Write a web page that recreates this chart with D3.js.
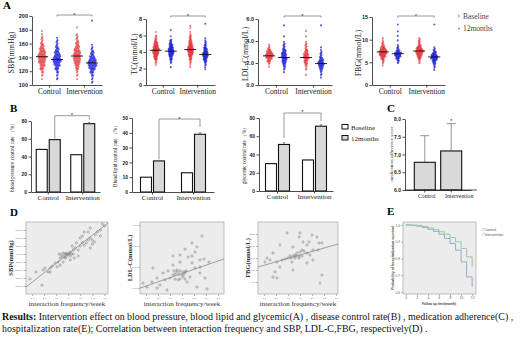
<!DOCTYPE html>
<html>
<head>
<meta charset="utf-8">
<script src="https://cdn.jsdelivr.net/npm/d3@7"></script>
<style>
body { margin: 0; background: #fff; }
svg { display: block; }
</style>
</head>
<body>
<svg id="chart" width="520" height="338"></svg>
<script>
// ---------- data ----------
const groups = ["Control", "Intervention"];
const periods = ["Baseline", "12months"];

// panel A: beeswarm points as [value, count] per bin
const sbpCtrlBase = [[110,1],[115,2],[120,4],[125,7],[130,10],[135,13],[140,15],[145,13],[150,10],[155,7],[160,5],[165,3],[170,2],[175,1],[180,1]];
const sbpCtrlFollow = [[110,2],[115,2],[120,4],[125,7],[130,11],[135,15],[140,13],[145,10],[150,7],[155,5],[160,3],[165,2],[170,1]];
const sbpIntBase = [[110,1],[115,2],[120,3],[125,6],[130,9],[135,12],[140,13],[145,13],[150,11],[155,8],[160,6],[165,4],[170,3],[175,1],[185,1]];
const sbpIntFollow = [[105,2],[110,2],[115,4],[120,7],[125,12],[130,16],[135,14],[140,10],[145,6],[150,4],[155,2],[160,1],[195,1]];
const sbpMeans = [141, 137, 142, 132];

const tcCtrlBase = [[2.5,1],[2.75,2],[3.0,3],[3.25,5],[3.5,7],[3.75,9],[4.0,11],[4.25,12],[4.5,10],[4.75,8],[5.0,7],[5.25,5],[5.5,3],[5.75,2],[6.0,2],[6.5,1]];
const tcCtrlFollow = [[2.25,1],[2.75,2],[3.0,3],[3.25,4],[3.5,6],[3.75,8],[4.0,10],[4.25,10],[4.5,8],[4.75,6],[5.0,5],[5.25,3],[5.5,2],[6.0,1],[6.75,1]];
const tcIntBase = [[2.25,1],[2.5,1],[2.75,2],[3.0,3],[3.25,4],[3.5,6],[3.75,8],[4.0,10],[4.25,11],[4.5,10],[4.75,8],[5.0,6],[5.25,5],[5.5,4],[5.75,3],[6.0,2],[6.25,1],[6.5,1],[7.0,1],[7.25,1]];
const tcIntFollow = [[2.0,1],[2.25,1],[2.5,2],[2.75,3],[3.0,5],[3.25,7],[3.5,9],[3.75,10],[4.0,8],[4.25,6],[4.5,5],[4.75,3],[5.0,2],[5.25,2],[5.5,1],[5.75,1],[7.5,1]];
const tcMeans = [4.2, 4.1, 4.3, 3.7];

const ldlCtrlBase = [[1.75,1],[2.0,3],[2.25,7],[2.5,12],[2.75,14],[3.0,10],[3.25,5],[3.5,2],[3.75,1]];
const ldlCtrlFollow = [[1.25,1],[1.5,2],[1.75,4],[2.0,6],[2.25,8],[2.5,10],[2.75,9],[3.0,7],[3.25,5],[3.5,3],[3.75,2],[4.0,1],[4.5,1],[5.5,1]];
const ldlIntBase = [[1.0,1],[1.5,2],[1.75,3],[2.0,5],[2.25,7],[2.5,10],[2.75,9],[3.0,6],[3.25,4],[3.5,3],[3.75,2],[4.0,1],[4.5,1],[5.0,1]];
const ldlIntFollow = [[0.75,1],[1.0,2],[1.25,3],[1.5,6],[1.75,9],[2.0,11],[2.25,8],[2.5,5],[2.75,3],[3.0,2],[3.25,1],[3.5,1],[5.5,1]];
const ldlMeans = [2.65, 2.5, 2.5, 1.95];

const fbgCtrlBase = [[4.5,1],[5.0,2],[5.5,4],[6.0,7],[6.5,11],[7.0,14],[7.5,14],[8.0,10],[8.5,6],[9.0,3],[9.5,2],[10.0,1],[10.5,1]];
const fbgCtrlFollow = [[5.0,2],[5.5,4],[6.0,7],[6.5,11],[7.0,12],[7.5,6],[8.0,3],[8.5,2],[9.0,1],[10.0,1],[11.0,1],[12.0,1],[13.5,1]];
const fbgIntBase = [[5.0,2],[5.5,3],[6.0,6],[6.5,9],[7.0,12],[7.5,14],[8.0,11],[8.5,7],[9.0,4],[9.5,3],[10.0,2],[10.5,1]];
const fbgIntFollow = [[3.5,1],[4.0,2],[4.5,3],[5.0,5],[5.5,8],[6.0,13],[6.5,11],[7.0,7],[7.5,4],[8.0,2],[8.5,1],[13.5,1]];
const fbgMeans = [7.3, 6.9, 7.5, 6.2];

// panel B: control rates (%) -> [ctrl base, ctrl 12m, int base, int 12m]
const bpRate = [48, 59, 42, 77];
const lipidRate = [10, 21, 13, 39];
const glucoseRate = [30, 51, 34, 71];

// panel C: medication adherence score
const adherenceMean = [6.78, 7.10];
const adherenceUpper = [7.53, 7.87];

// panel D: [interaction frequency, value]
const sbpScatter = [[0.83,109],[1.33,117.5],[1.83,101],[1.92,120],[2.08,122.5],[2.33,117.5],[2.5,122.5],[2.5,117.5],[2.67,125],[2.92,129],[3.08,124],[3.17,130],[3.33,126],[3.33,135],[3.58,130],[3.67,137.5],[3.75,135],[3.83,141],[4.0,139],[4.17,142.5],[4.17,132.5],[4.33,150],[4.42,145],[4.5,135],[4.58,147.5],[4.67,154],[4.83,145],[4.83,137.5],[5.0,150],[5.0,160],[5.17,154],[5.17,162.5],[5.33,151],[5.33,167.5],[5.5,154],[5.67,157.5],[5.67,167.5],[5.83,160],[5.83,172.5],[5.83,147.5],[6.0,157.5],[6.0,152.5],[6.17,155],[6.25,164],[6.42,167.5],[6.67,170],[6.67,162.5],[6.83,177.5],[7.0,175],[3.25,140],[3.42,139],[3.58,141],[3.75,140],[3.92,140],[4.08,141],[4.25,140],[4.42,140],[3.5,136],[3.83,136],[4.17,137.5]];
const sbpLine = [[0.5, 98.8], [7.3, 178.8]];

const ldlScatter = [[5.67,3.47],[4.83,3.14],[5.25,2.95],[4.25,2.85],[3.83,2.57],[3.25,2.52],[4.83,2.52],[5.5,2.33],[5.83,2.38],[4.83,2.19],[3.83,2.23],[3.25,2.09],[2.83,1.81],[3.58,1.85],[4.25,1.76],[5.08,1.95],[5.5,1.71],[5.92,1.47],[6.08,0.95],[5.25,1.04],[4.42,1.28],[4.0,1.61],[2.58,1.38],[1.92,1.47],[1.5,1.28],[1.08,1.04],[0.75,1.23],[1.92,0.99],[2.75,0.9],[2.17,1.14],[3.0,1.47],[3.25,1.61],[1.58,1.95],[2.42,1.71],[4.5,2.47],[5.08,2.71],[5.5,1.99],[6.25,2.23],[4.67,1.52],[3.67,1.38],[4.08,1.52],[3.33,1.81],[3.58,1.76],[3.83,1.81],[4.08,1.76],[4.33,1.81],[3.42,1.66],[3.75,1.66],[4.17,1.66],[3.42,1.42],[3.83,1.42],[4.25,1.42]];
const ldlLine = [[0.5, 0.99], [7.5, 2.38]];

const fbgScatter = [[2.92,12.17],[4.0,12.17],[3.92,11.5],[5.0,11.83],[5.42,11.5],[5.58,10.5],[5.83,10.5],[4.75,10.67],[4.25,10.67],[3.42,9.83],[2.33,10.17],[1.75,8.83],[1.25,8.0],[1.08,7.33],[2.08,7.33],[2.5,7.67],[2.75,7.83],[3.0,8.0],[3.58,8.5],[3.75,8.83],[4.0,9.0],[4.17,9.33],[4.33,9.17],[4.58,8.83],[4.83,8.5],[5.08,9.33],[5.5,9.33],[1.92,5.67],[1.75,4.83],[2.08,4.67],[4.58,7.17],[3.42,6.0],[2.33,6.5],[5.67,3.83],[5.83,5.17],[5.08,7.67],[4.58,10.17],[3.33,7.33],[1.5,7.67],[3.17,8.33],[3.42,8.33],[3.67,8.33],[3.92,8.33],[4.17,8.33],[3.25,8.0],[3.58,8.0],[3.92,8.0]];
const fbgLine = [[0.5, 6.5], [7.2, 10.35]];

// panel E: hospitalization-free survival by month
const months = [0,1,2,3,4,5,6,7,8,9,10,11,12];
const survControl = [1.0, 0.998, 0.993, 0.985, 0.975, 0.962, 0.945, 0.92, 0.89, 0.85, 0.78, 0.69, 0.63];
const survIntervention = [1.0, 0.999, 0.996, 0.99, 0.982, 0.972, 0.96, 0.945, 0.925, 0.9, 0.86, 0.81, 0.75];

// ---------- drawing ----------
const svg = d3.select("#chart");
svg.append("rect").attr("width", 520).attr("height", 338).attr("fill", "#fff");

const serif = "'Liberation Serif','Times New Roman',serif";
const sans = "'Liberation Sans',Arial,sans-serif";
const red = "#e3232a", blue = "#1c1fd4";

function letter(t, x, y) {
    svg.append("text").attr("x", x).attr("y", y).text(t)
        .attr("font-family", serif).attr("font-weight", "bold").attr("font-size", 11);
}

function vLabel(g, t, x, y, size, weight, fill) {
    g.append("text")
        .attr("transform", `translate(${x},${y}) rotate(-90)`)
        .attr("text-anchor", "middle").attr("dy", "0.35em")
        .attr("font-family", serif).attr("font-size", size)
        .attr("font-weight", weight || "normal")
        .attr("fill", fill || "#222")
        .text(t);
}

function styleAxis(sel, font, size, weight) {
    sel.selectAll("text").attr("font-family", font).attr("font-size", size)
        .attr("font-weight", weight).attr("fill", "#222");
    sel.selectAll(".domain, .tick line").attr("stroke", "#222").attr("stroke-width", 0.8);
}

function star(g, x, y) {
    g.append("text").attr("x", x).attr("y", y).attr("text-anchor", "middle")
        .attr("font-family", sans).attr("font-size", 6).attr("fill", "#333").text("*");
}

// ----- panel A -----
function swarmPlot(o) {
    const g = svg.append("g");
    const y = d3.scaleLinear().domain(o.domain).range([o.bottom, o.top]);
    const x = d3.scaleBand().domain(groups).range([o.x0, o.x0 + o.width]);
    const cx = k => x(groups[k >> 1]) + x.bandwidth() / 2 + (k % 2 ? 7.5 : -7.5);

    const pts = [];
    o.series.forEach((counts, k) => counts.forEach(([v, n]) => {
        for (let j = 0; j < n; j++) {
            const side = (j % 2 ? 1 : -1) * Math.ceil(j / 2);
            pts.push({k: k, x: cx(k) + side * 0.55, v: v + ((j % 3) - 1) * o.step / 3});
        }
    }));

    g.selectAll("circle").data(pts).join("circle")
        .attr("cx", d => d.x).attr("cy", d => y(d.v)).attr("r", 1.05)
        .attr("fill", d => d.k % 2 ? blue : red)
        .attr("fill-opacity", d => d.k % 2 ? 0.7 : 0.58);

    g.selectAll(".mean").data(o.means).join("line")
        .attr("class", "mean")
        .attr("x1", (d, k) => cx(k) - 6).attr("x2", (d, k) => cx(k) + 6)
        .attr("y1", d => y(d)).attr("y2", d => y(d))
        .attr("stroke", "#111").attr("stroke-width", 0.9);

    g.append("g").attr("transform", `translate(${o.x0},0)`)
        .call(d3.axisLeft(y).tickValues(o.ticks).tickSize(2.5).tickPadding(1.5).tickSizeOuter(0))
        .call(styleAxis, sans, 5.5, "bold");
    g.append("g").attr("transform", `translate(0,${o.bottom})`)
        .call(d3.axisBottom(x).tickSize(2.5).tickPadding(1).tickSizeOuter(0))
        .call(styleAxis, serif, 7.5, "normal");

    vLabel(g, o.label, o.labelX, (o.top + o.bottom) / 2 + 2, 8);

    const b1 = cx(1), b2 = cx(3);
    g.append("path")
        .attr("d", `M${b1},${o.bracketY + 1.5}V${o.bracketY}H${b2}V${o.bracketY + 1.5}`)
        .attr("fill", "none").attr("stroke", "#555").attr("stroke-width", 0.6);
    star(g, (b1 + b2) / 2, o.bracketY + 2);
}

swarmPlot({x0: 32, width: 70, top: 16, bottom: 85, domain: [100, 200], ticks: [100,120,140,160,180,200],
    step: 5, label: "SBP(mmHg)", labelX: 11, bracketY: 15,
    series: [sbpCtrlBase, sbpCtrlFollow, sbpIntBase, sbpIntFollow], means: sbpMeans});
swarmPlot({x0: 146, width: 69, top: 19, bottom: 85, domain: [0, 8], ticks: [0,2,4,6,8],
    step: 0.25, label: "TC(mmol/L)", labelX: 134, bracketY: 16,
    series: [tcCtrlBase, tcCtrlFollow, tcIntBase, tcIntFollow], means: tcMeans});
swarmPlot({x0: 258, width: 74, top: 19, bottom: 85, domain: [0, 6], ticks: [0,2,4,6],
    step: 0.25, label: "LDL-C(mmol/L)", labelX: 245, bracketY: 16,
    series: [ldlCtrlBase, ldlCtrlFollow, ldlIntBase, ldlIntFollow], means: ldlMeans});
swarmPlot({x0: 372, width: 73, top: 17, bottom: 85, domain: [0, 15], ticks: [0,5,10,15],
    step: 0.5, label: "FBG(mmol/L)", labelX: 358, bracketY: 16,
    series: [fbgCtrlBase, fbgCtrlFollow, fbgIntBase, fbgIntFollow], means: fbgMeans});

// legend A
const legA = svg.append("g");
legA.selectAll("circle").data(periods).join("circle")
    .attr("cx", 459).attr("cy", (d, i) => 16 + i * 12.5).attr("r", 0.9)
    .attr("fill", (d, i) => i ? blue : red).attr("fill-opacity", 0.6);
legA.selectAll("text").data(periods).join("text")
    .attr("x", 463).attr("y", (d, i) => 18.5 + i * 12.5)
    .attr("font-family", serif).attr("font-size", 7.5).attr("fill", "#444").text(d => d);

letter("A", 3, 9);

// ----- panel B -----
function ratePlot(o) {
    const g = svg.append("g");
    const y = d3.scaleLinear().domain(o.domain).range([o.bottom, o.top]);
    const x = d3.scaleBand().domain(groups).range([o.x0, o.x0 + o.width]);
    const bars = o.values.map((v, k) => ({
        v: v, k: k,
        x: x(groups[k >> 1]) + x.bandwidth() / 2 + (k % 2 ? 1 : -12)
    }));
    g.selectAll("rect").data(bars).join("rect")
        .attr("x", d => d.x).attr("width", 11)
        .attr("y", d => y(d.v)).attr("height", d => o.bottom - y(d.v))
        .attr("fill", d => d.k % 2 ? "#d9d9d9" : "#fff")
        .attr("stroke", "#111").attr("stroke-width", 1.1);

    g.append("g").attr("transform", `translate(${o.x0},0)`)
        .call(d3.axisLeft(y).tickValues(o.ticks).tickSize(2.5).tickPadding(1.5).tickSizeOuter(0))
        .call(styleAxis, sans, 5, "bold");
    g.append("g").attr("transform", `translate(0,${o.bottom})`)
        .call(d3.axisBottom(x).tickSize(2.5).tickPadding(1).tickSizeOuter(0))
        .call(styleAxis, serif, 7, "normal");

    vLabel(g, o.label, o.labelX, (o.top + o.bottom) / 2, 5.2);

    const c1 = bars[1].x + 5.5, c2 = bars[3].x + 5.5;
    g.append("path")
        .attr("d", `M${c1},${y(o.leftEnd)}V${y(o.bracket)}H${c2}V${y(o.rightEnd)}`)
        .attr("fill", "none").attr("stroke", "#9a9a9a").attr("stroke-width", 1);
    star(g, (c1 + c2) / 2, y(o.bracket) + 1.5);
    o.stars.forEach(k => star(g, bars[k].x + 5.5, y(bars[k].v) + 2));
}

ratePlot({x0: 31, width: 69, top: 121, bottom: 192, domain: [0, 80], ticks: [0,20,40,60,80],
    values: bpRate, label: "blood pressure control rate （%）", labelX: 12,
    bracket: 86, leftEnd: 60, rightEnd: 82, stars: [3]});
ratePlot({x0: 132, width: 82, top: 118, bottom: 192, domain: [0, 50], ticks: [0,10,20,30,40,50],
    values: lipidRate, label: "Blood lipid control rate （%）", labelX: 115,
    bracket: 49.3, leftEnd: 22, rightEnd: 44, stars: [3]});
ratePlot({x0: 259, width: 74, top: 118, bottom: 191, domain: [0, 80], ticks: [0,20,40,60,80],
    values: glucoseRate, label: "glycemic control rate （%）", labelX: 244,
    bracket: 85.5, leftEnd: 58, rightEnd: 76.7, stars: [1, 3]});

// legend B
const legB = svg.append("g");
legB.selectAll("rect").data(periods).join("rect")
    .attr("x", 342).attr("y", (d, i) => 124.5 + i * 11).attr("width", 6).attr("height", 4.5)
    .attr("fill", (d, i) => i ? "#d9d9d9" : "#fff").attr("stroke", "#111").attr("stroke-width", 1);
legB.selectAll("text").data(periods).join("text")
    .attr("x", 351).attr("y", (d, i) => 129.5 + i * 11)
    .attr("font-family", serif).attr("font-size", 7).attr("fill", "#222").text(d => d);

letter("B", 10, 112);

// ----- panel C -----
{
    const g = svg.append("g");
    const y = d3.scaleLinear().domain([6.0, 8.0]).range([190, 119]);
    const x = d3.scaleBand().domain(groups).range([405, 471]).paddingInner(0.1).paddingOuter(0.3);
    const cData = groups.map((gName, i) => ({g: gName, m: adherenceMean[i], u: adherenceUpper[i]}));
    g.selectAll("line.err").data(cData).join("line").attr("class", "err")
        .attr("x1", d => x(d.g) + x.bandwidth() / 2).attr("x2", d => x(d.g) + x.bandwidth() / 2)
        .attr("y1", d => y(d.m)).attr("y2", d => y(d.u))
        .attr("stroke", "#888").attr("stroke-width", 0.9);
    g.selectAll("line.cap").data(cData).join("line").attr("class", "cap")
        .attr("x1", d => x(d.g) + x.bandwidth() / 2 - 4.5).attr("x2", d => x(d.g) + x.bandwidth() / 2 + 4.5)
        .attr("y1", d => y(d.u)).attr("y2", d => y(d.u))
        .attr("stroke", "#888").attr("stroke-width", 0.9);
    g.selectAll("rect").data(cData).join("rect")
        .attr("x", d => x(d.g) + x.bandwidth() / 2 - 10.5).attr("width", 21)
        .attr("y", d => y(d.m)).attr("height", d => 190 - y(d.m))
        .attr("fill", "#d9d9d9").attr("stroke", "#111").attr("stroke-width", 1.1);
    g.append("g").attr("transform", "translate(405,0)")
        .call(d3.axisLeft(y).tickValues([6.0, 6.5, 7.0, 7.5, 8.0]).tickFormat(d3.format(".1f"))
            .tickSize(2.5).tickPadding(1.5).tickSizeOuter(0))
        .call(styleAxis, sans, 5, "bold");
    g.append("g").attr("transform", "translate(0,190)")
        .call(d3.axisBottom(x).tickSize(2.5).tickPadding(1).tickSizeOuter(0))
        .call(styleAxis, serif, 5.8, "normal")
        .selectAll("text").attr("dx", (d, i) => i ? 8 : 2);
    g.append("line").attr("x1", 405).attr("x2", 477).attr("y1", 190).attr("y2", 190)
        .attr("stroke", "#222").attr("stroke-width", 0.8);
    vLabel(g, "medication adherence score", 391, 154, 5);
    star(g, x("Intervention") + x.bandwidth() / 2, y(adherenceUpper[1]) - 1);
}
letter("C", 387, 112);

// ----- panel D -----
function scatterPlot(o) {
    const g = svg.append("g");
    const x = d3.scaleLinear().domain(o.xDomain).range([o.x0, o.x1]);
    const y = d3.scaleLinear().domain(o.yDomain).range([o.y1, o.y0]);
    g.append("rect").attr("x", o.x0).attr("y", o.y0)
        .attr("width", o.x1 - o.x0).attr("height", o.y1 - o.y0)
        .attr("fill", "#ececec").attr("stroke", "#9a9a9a").attr("stroke-width", 0.6);

    const ax = g.append("g").attr("transform", `translate(0,${o.y1})`)
        .call(d3.axisBottom(x).tickValues(o.xTicks).tickSize(2).tickPadding(1).tickSizeOuter(0));
    const ay = g.append("g").attr("transform", `translate(${o.x0},0)`)
        .call(d3.axisLeft(y).tickValues(o.yTicks).tickFormat(d3.format(o.yFmt)).tickSize(2).tickPadding(0.8).tickSizeOuter(0));
    [ax, ay].forEach(a => {
        a.select(".domain").remove();
        a.selectAll(".tick line").attr("stroke", "#777").attr("stroke-width", 0.5);
        a.selectAll("text").attr("font-size", 2.5).attr("font-family", sans).attr("fill", "#666");
    });

    g.selectAll("circle").data(o.points).join("circle")
        .attr("cx", d => x(d[0])).attr("cy", d => y(d[1])).attr("r", 1.1)
        .attr("fill", "none").attr("stroke", "#666").attr("stroke-width", 0.45);

    g.append("line")
        .attr("x1", x(o.line[0][0])).attr("y1", y(o.line[0][1]))
        .attr("x2", x(o.line[1][0])).attr("y2", y(o.line[1][1]))
        .attr("stroke", "#8a8a8a").attr("stroke-width", 0.8);

    g.append("text").attr("x", (o.x0 + o.x1) / 2).attr("y", 306).attr("text-anchor", "middle")
        .attr("font-family", serif).attr("font-size", 7).attr("fill", "#333")
        .text("interaction frequency/week");
    vLabel(g, o.label, o.labelX, (o.y0 + o.y1) / 2, 6.5, "bold", "#333");
}

scatterPlot({x0: 26, x1: 108, y0: 222, y1: 294, xDomain: [0.5, 7.3], yDomain: [90, 180],
    xTicks: [1,2,3,4,5,6,7], yTicks: [100,110,120,130,140,150,160,170], yFmt: ".2f",
    points: sbpScatter, line: sbpLine, label: "SBP(mmHg)", labelX: 11});
scatterPlot({x0: 140, x1: 224, y0: 222, y1: 294, xDomain: [0.5, 7.5], yDomain: [0.71, 4.14],
    xTicks: [1,2,3,4,5,6,7], yTicks: [1,2,3,4], yFmt: ".2f",
    points: ldlScatter, line: ldlLine, label: "LDL-C(mmol/L)", labelX: 130});
scatterPlot({x0: 258, x1: 338, y0: 222, y1: 294, xDomain: [0.5, 7.17], yDomain: [2, 14],
    xTicks: [1,2,3,4,5,6,7], yTicks: [4,6,8,10,12], yFmt: ".2f",
    points: fbgScatter, line: fbgLine, label: "FBG(mmol/L)", labelX: 248});

letter("D", 10, 216);

// ----- panel E -----
{
    const g = svg.append("g");
    const x = d3.scaleLinear().domain([-0.5, 12.7]).range([403, 476]);
    const y = d3.scaleLinear().domain([0.588, 1.018]).range([294, 222]);
    g.append("rect").attr("x", 403).attr("y", 222).attr("width", 73).attr("height", 72)
        .attr("fill", "#ececec").attr("stroke", "#9a9a9a").attr("stroke-width", 0.6);
    const ax = g.append("g").attr("transform", "translate(0,294)")
        .call(d3.axisBottom(x).tickValues([0,2,4,6,8,10,12]).tickSize(2).tickPadding(1).tickSizeOuter(0));
    const ay = g.append("g").attr("transform", "translate(403,0)")
        .call(d3.axisLeft(y).tickValues([0.6,0.7,0.8,0.9,1.0]).tickFormat(d3.format(".1f")).tickSize(2).tickPadding(1).tickSizeOuter(0));
    [ax, ay].forEach(a => {
        a.select(".domain").remove();
        a.selectAll(".tick line").attr("stroke", "#777").attr("stroke-width", 0.5);
        a.selectAll("text").attr("font-size", 3.2).attr("font-family", sans).attr("fill", "#555");
    });
    const line = d3.line().x(d => x(d[0])).y(d => y(d[1])).curve(d3.curveStepAfter);
    const curves = [
        {name: "Control", color: "#8aa6c6", vals: survControl},
        {name: "Intervention", color: "#93c29c", vals: survIntervention}
    ];
    g.selectAll("path.km").data(curves).join("path").attr("class", "km")
        .attr("d", c => line(months.map((m, i) => [m, c.vals[i]])))
        .attr("fill", "none").attr("stroke", c => c.color).attr("stroke-width", 0.9);

    const leg = g.selectAll("g.leg").data(curves).join("g").attr("class", "leg")
        .attr("transform", (c, i) => `translate(482,${231 + i * 4.5})`);
    leg.append("line").attr("x1", 0).attr("x2", 2).attr("y1", 0).attr("y2", -3)
        .attr("stroke", c => c.color).attr("stroke-width", 0.6);
    leg.append("text").attr("x", 2.5).attr("y", 0).attr("font-size", 3.6)
        .attr("font-family", sans).attr("fill", "#555").text(c => c.name);

    g.append("text").attr("x", 439).attr("y", 305).attr("text-anchor", "middle")
        .attr("font-family", sans).attr("font-size", 3.2).attr("font-weight", "bold").attr("fill", "#444")
        .text("Follow up time(month)");
    g.append("text").attr("transform", "translate(394,258) rotate(-90)").attr("text-anchor", "middle")
        .attr("font-family", sans).attr("font-size", 3.6).attr("font-weight", "bold").attr("fill", "#444")
        .text("Probability of hospitalization survival");
}
letter("E", 387, 215);

// ----- caption -----
const cap = svg.append("g").attr("font-family", serif).attr("fill", "#111");
const l1 = cap.append("text").attr("x", 2).attr("y", 320).attr("font-size", 9.5);
l1.append("tspan").attr("font-weight", "bold").text("Results: ");
l1.append("tspan").text("Intervention effect on blood pressure, blood lipid and glycemic(A) , disease control rate(B) , medication adherence(C) ,");
const l2 = cap.append("text").attr("x", 2).attr("y", 332).attr("font-size", 9.5)
    .text("hospitalization rate(E); Correlation between interaction frequency and SBP, LDL-C,FBG, respectively(D) .");
// fit first line to the figure width
const w1 = l1.node().getComputedTextLength();
const fs = 9.5 * 512 / w1;
l1.attr("font-size", fs);
l2.attr("font-size", fs);
</script>
</body>
</html>
